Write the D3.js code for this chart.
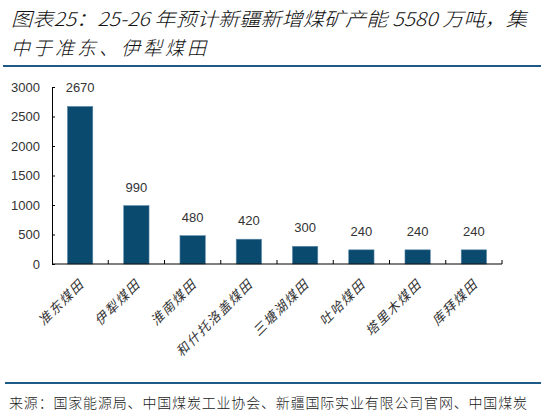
<!DOCTYPE html>
<html>
<head>
<meta charset="utf-8">
<script src="https://cdn.jsdelivr.net/npm/d3@7"></script>
<style>
  html, body { margin: 0; padding: 0; background: #fff; }
  svg { display: block; }
</style>
</head>
<body>
<svg id="chart" width="541" height="416"></svg>
<script>
// 25-26 new coal capacity in Xinjiang, by coalfield (10k t)
const categories = ['准东煤田', '伊犁煤田', '淮南煤田', '和什托洛盖煤田', '三塘湖煤田', '吐哈煤田', '塔里木煤田', '库拜煤田'];
const capacity = [2670, 990, 480, 420, 300, 240, 240, 240];
const yTicks = [0, 500, 1000, 1500, 2000, 2500, 3000];

const titleLines = ['图表25：25-26 年预计新疆新增煤矿产能 5580 万吨，集', '中于准东、伊犁煤田'];
const sourceText = '来源：国家能源局、中国煤炭工业协会、新疆国际实业有限公司官网、中国煤炭';

const svg = d3.select('#chart');
const cjk = '"Noto Sans CJK SC", "Noto Sans", sans-serif';
const num = '"Liberation Sans", Arial, sans-serif';

// title
svg.append('text')
  .attr('x', 11).attr('y', 26)
  .attr('textLength', 516).attr('lengthAdjust', 'spacingAndGlyphs')
  .attr('font-family', cjk).attr('font-style', 'italic').attr('font-weight', 300)
  .attr('font-size', 19).attr('fill', '#111')
  .text(titleLines[0]);
svg.append('text')
  .attr('x', 11).attr('y', 55)
  .attr('font-family', cjk).attr('font-style', 'italic').attr('font-weight', 300)
  .attr('font-size', 19).attr('fill', '#111')
  .attr('letter-spacing', 3)
  .text(titleLines[1]);

svg.append('line')
  .attr('x1', 3).attr('x2', 541).attr('y1', 66).attr('y2', 66)
  .attr('stroke', '#1d5a85').attr('stroke-width', 2);

// plot area
const x = d3.scaleBand().domain(categories).range([52, 502]).paddingInner(0.55).paddingOuter(0.275);
const y = d3.scaleLinear().domain([0, 3000]).range([264, 87]);

const g = svg.append('g');

g.selectAll('rect')
  .data(categories)
  .join('rect')
  .attr('x', d => x(d))
  .attr('width', x.bandwidth())
  .attr('y', (d, i) => y(capacity[i]))
  .attr('height', (d, i) => y(0) - y(capacity[i]))
  .attr('fill', '#0b4a6f')
  .attr('stroke', '#5d89a8').attr('stroke-width', 0.6);

g.selectAll('text.val')
  .data(categories)
  .join('text')
  .attr('class', 'val')
  .attr('x', d => x(d) + x.bandwidth() / 2)
  .attr('y', (d, i) => y(capacity[i]) - 14)
  .attr('text-anchor', 'middle')
  .attr('font-family', num).attr('font-size', 13).attr('fill', '#333')
  .text((d, i) => capacity[i]);

// y axis
const yAxis = g.append('g')
  .attr('transform', 'translate(52,0)')
  .call(d3.axisLeft(y).tickValues(yTicks).tickFormat(d3.format('d')).tickSize(-3).tickPadding(12));
yAxis.select('.domain').attr('stroke', '#000');
yAxis.selectAll('.tick line').attr('stroke', '#000');
yAxis.selectAll('.tick text')
  .attr('font-family', num).attr('font-size', 13).attr('fill', '#333');

// x axis baseline with boundary ticks
g.append('line')
  .attr('x1', 52).attr('x2', 502).attr('y1', y(0)).attr('y2', y(0))
  .attr('stroke', '#000').attr('stroke-width', 1.2);
const step = x.step();
g.selectAll('line.bt')
  .data(d3.range(1, categories.length + 1))
  .join('line')
  .attr('class', 'bt')
  .attr('x1', i => 52 + step * i).attr('x2', i => 52 + step * i)
  .attr('y1', y(0)).attr('y2', y(0) - 4)
  .attr('stroke', '#000');

g.selectAll('text.cat')
  .data(categories)
  .join('text')
  .attr('class', 'cat')
  .attr('transform', d => `translate(${x(d) + x.bandwidth() / 2 + 5},${y(0) + 21}) rotate(-45)`)
  .attr('text-anchor', 'end')
  .attr('font-family', cjk).attr('font-style', 'italic')
  .attr('font-size', 13).attr('fill', '#333')
  .attr('letter-spacing', 1.6)
  .text(d => d);

// source
svg.append('line')
  .attr('x1', 5).attr('x2', 541).attr('y1', 383).attr('y2', 383)
  .attr('stroke', '#1d5a85').attr('stroke-width', 2);
svg.append('text')
  .attr('x', 9).attr('y', 408)
  .attr('textLength', 518).attr('lengthAdjust', 'spacing')
  .attr('font-family', cjk).attr('font-weight', 300).attr('font-size', 14).attr('fill', '#222')
  .text(sourceText);
</script>
</body>
</html>
